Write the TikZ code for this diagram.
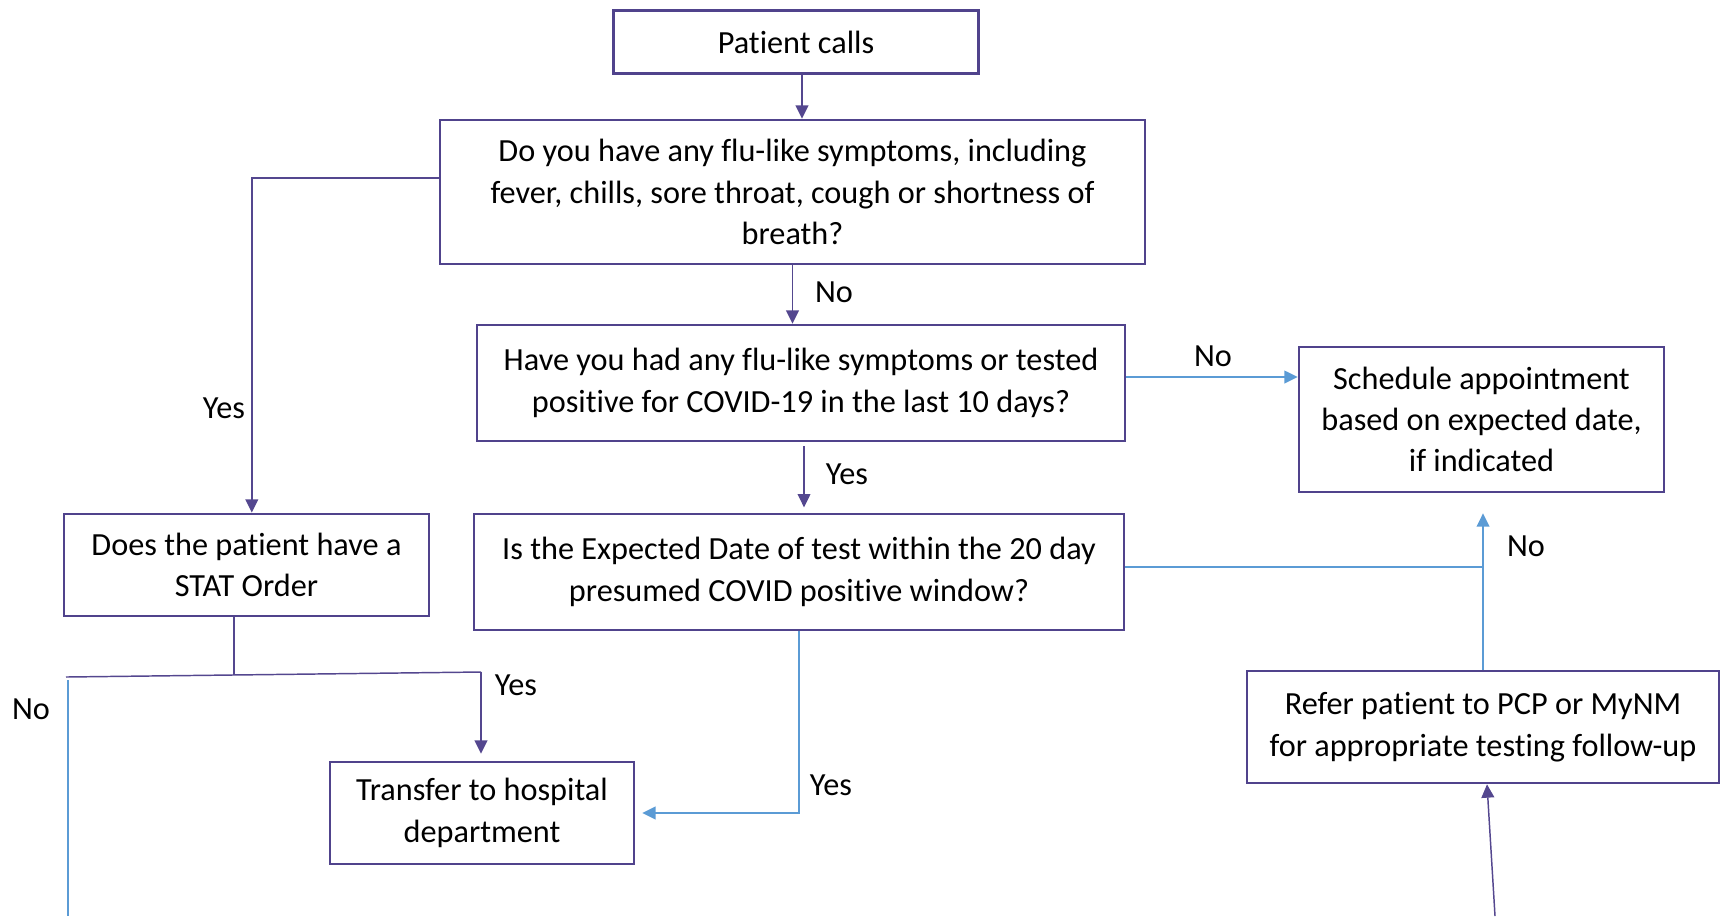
\documentclass[tikz,border=0pt]{standalone}
\usepackage{fontspec}
\setmainfont{Carlito}[Ligatures=CommonOff]
\usepackage{xcolor}
\usepackage{tikz}
\usetikzlibrary{arrows.meta}

\definecolor{boxpurple}{HTML}{50438C}
\definecolor{linepurple}{HTML}{54478F}
\definecolor{lineblue}{HTML}{5B9BD5}

\tikzset{
  box/.style={draw=boxpurple, line width=1pt, align=center, inner sep=0pt,
    font=\fontsize{12.1}{15.5}\selectfont},
  lbl/.style={font=\fontsize{12.1}{14}\selectfont, inner sep=0pt},
  pline/.style={draw=linepurple, line width=0.55pt},
  bline/.style={draw=lineblue, line width=0.55pt},
  tip/.style={-{Triangle[width=4.8pt,length=5pt]}},
}

\begin{document}
\begin{tikzpicture}[x=0.375pt,y=-0.375pt]
    \useasboundingbox (0,0) rectangle (1726,916);

    \node[box, minimum width=137pt, minimum height=23.6pt] (calls) at (796, 42) {Patient calls};
    \node[box, minimum width=264.4pt, minimum height=54pt] (q1) at (792.5, 192)
        {Do you have any flu-like symptoms, including\\ fever, chills, sore throat, cough or shortness of\\ breath?};
    \node[box, minimum width=243pt, minimum height=43.5pt] (q2) at (801, 383)
        {Have you had any flu-like symptoms or tested\\ positive for COVID-19 in the last 10 days?};
    \node[box, minimum width=136.9pt, minimum height=54.4pt] (sched) at (1481.5, 419.5)
        {Schedule appointment\\ based on expected date,\\ if indicated};
    \node[box, minimum width=136.9pt, minimum height=38.3pt] (stat) at (246.5, 565)
        {Does the patient have a\\ STAT Order};
    \node[box, minimum width=243.8pt, minimum height=43.5pt] (exp) at (799, 572)
        {Is the Expected Date of test within the 20 day\\ presumed COVID positive window?};
    \node[box, minimum width=177pt, minimum height=42pt] (refer) at (1483, 727)
        {Refer patient to PCP or MyNM\\ for appropriate testing follow-up};
    \node[box, minimum width=114pt, minimum height=38.3pt] (transfer) at (482, 813)
        {Transfer to hospital\\ department};

    \coordinate (q1out) at ([yshift=5.25pt]q1.west);
    \coordinate (q2out) at ([yshift=2.25pt]q2.east);
    \coordinate (q2down) at (804, 446);
    \coordinate (expout) at ([yshift=1.9pt]exp.east);
    \coordinate (statfork) at (234, 675);
    \coordinate (forkleft) at (66, 677);
    \coordinate (forkright) at (481, 672);
    \coordinate (nostart) at (68, 680);
    \coordinate (noend) at (68, 916);
    \coordinate (referin) at (1495, 916);

    \draw[pline, tip] ([xshift=2.25pt]calls.south) -- ([xshift=2.25pt]calls.south |- q1.north);
    \draw[pline, tip] (q1out) -| ([xshift=2pt]stat.north);
    \draw[pline, tip] (q1.south) -- (q1.south |- q2.north);
    \draw[bline, tip] (q2out) -- (q2out -| sched.west);
    \draw[pline, tip, shorten >=2pt] (q2down) -- (q2down |- exp.north);
    \draw[bline] (expout) -- (expout -| refer.north);
    \draw[bline, tip, shorten >=7.5pt] (refer.north) -- (refer.north |- sched.south);
    \draw[pline] (stat.south -| statfork) -- (statfork);
    \draw[pline] (forkleft) -- (forkright);
    \draw[pline, tip, shorten >=2.6pt] (forkright) -- (forkright |- transfer.north);
    \draw[bline] (nostart) -- (noend);
    \draw[bline, tip, shorten >=2.6pt] (exp.south) |- (transfer.east);
    \draw[pline, tip] (referin) -- ([xshift=1.5pt]refer.south);

    \node[lbl] (yes1) at (224, 408) {Yes};
    \node[lbl] (no1) at (834, 292) {No};
    \node[lbl] (no2) at (1213, 356) {No};
    \node[lbl] (yes2) at (847, 474) {Yes};
    \node[lbl] (no3) at (1526, 546) {No};
    \node[lbl] (yes3) at (516, 685) {Yes};
    \node[lbl] (no4) at (31, 709) {No};
    \node[lbl] (yes4) at (831, 785) {Yes};

\end{tikzpicture}
\end{document}
